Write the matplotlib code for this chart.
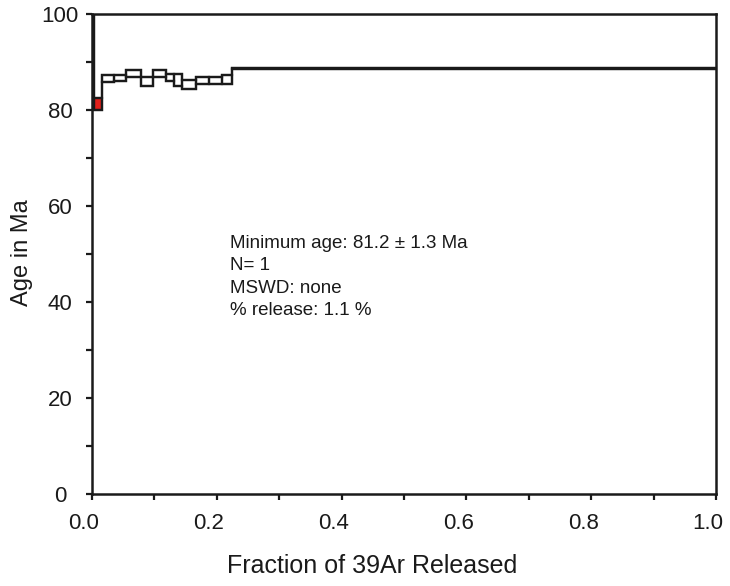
import matplotlib
matplotlib.use("Agg")
import matplotlib.pyplot as plt
import matplotlib.transforms as mtransforms
from matplotlib.patches import Rectangle
import numpy as np

# Data: cumulative fraction edges, step ages and 1-sigma errors
fraction_edges = [0.0, 0.0037, 0.016, 0.0355, 0.055, 0.078, 0.098, 0.118,
                  0.131, 0.144, 0.166, 0.188, 0.208, 0.225, 1.0]
ages = [150.0, 81.2, 86.5, 86.5, 87.5, 85.85, 87.5, 86.7, 86.2, 85.25,
        86.0, 86.0, 86.3, 88.6]
errors = [20.0, 1.3, 0.7, 0.6, 0.7, 0.95, 0.7, 0.7, 1.2, 0.95, 0.7, 0.7,
          1.0, 0.15]
selected_steps = [1]  # highlighted (red) step index

x_ticks = [0.0, 0.2, 0.4, 0.6, 0.8, 1.0]
x_tick_labels = ["0.0", "0.2", "0.4", "0.6", "0.8", "1.0"]
y_ticks = [0, 20, 40, 60, 80, 100]
y_tick_labels = ["0", "20", "40", "60", "80", "100"]

annotation_lines = ["Minimum age: 81.2 \u00b1 1.3 Ma", "N= 1", "MSWD: none",
                    "% release: 1.1 %"]

plt.rcParams['font.family'] = ['Liberation Sans', 'DejaVu Sans']
LINE = '#1a1a1a'
LW = 1.6

fig = plt.figure(figsize=(7.30, 5.86), dpi=100)
ax = fig.add_axes([92 / 730, 92 / 586, 624 / 730, 480.5 / 586])

edges = np.array(fraction_edges)
a = np.array(ages)
e = np.array(errors)

# Each step drawn as a box (age +/- error) over its fraction of gas
for i in range(len(a)):
    fc = '#e3201b' if i in selected_steps else 'none'
    ax.add_patch(Rectangle((edges[i], a[i] - e[i]), edges[i + 1] - edges[i],
                           2 * e[i], facecolor=fc, edgecolor=LINE,
                           linewidth=LW, joinstyle='miter', zorder=3))

# Connecting staircase outlines
ax.stairs(a + e, edges, baseline=None, color=LINE, linewidth=LW, zorder=3)
ax.stairs(a - e, edges, baseline=None, color=LINE, linewidth=LW, zorder=3)

ax.set_xlim(0, 1.0)
ax.set_ylim(0, 100)

for s in ax.spines.values():
    s.set_linewidth(1.8)
    s.set_color(LINE)
    s.set_zorder(4)

ax.set_xticks(x_ticks)
ax.set_xticklabels(x_tick_labels)
ax.set_yticks(y_ticks)
ax.set_yticklabels(y_tick_labels)
ax.set_xticks(np.arange(0.1, 1.0, 0.2), minor=True)
ax.set_yticks(np.arange(10, 100, 20), minor=True)

ax.tick_params(axis='both', which='major', direction='out', length=4.5,
               width=1.6, color=LINE, labelsize=16, labelcolor=LINE)
ax.tick_params(axis='both', which='minor', direction='out', length=4,
               width=1.6, color=LINE)
ax.tick_params(axis='y', which='major', pad=18.5)
ax.tick_params(axis='x', which='major', pad=9)
for lbl in ax.get_yticklabels():
    lbl.set_horizontalalignment('center')
offset = mtransforms.ScaledTranslation(-8 / 100, 0, fig.dpi_scale_trans)
for lbl in ax.get_xticklabels():
    lbl.set_transform(lbl.get_transform() + offset)

ax.set_xlabel("Fraction of 39Ar Released", fontsize=18, color=LINE,
              va='center')
ax.xaxis.set_label_coords((372 - 92) / 624, (494 - 566) / 480.5)
ax.set_ylabel("Age in Ma", fontsize=17, color=LINE, va='center')
ax.yaxis.set_label_coords((22 - 92) / 624, (494 - 253) / 480.5)

ax.text((230 - 92) / 624, (494 - 235) / 480.5, "\n".join(annotation_lines),
        transform=ax.transAxes, fontsize=13.5, color=LINE, va='top',
        ha='left', linespacing=1.42)

fig.savefig("out.png", dpi=100)
